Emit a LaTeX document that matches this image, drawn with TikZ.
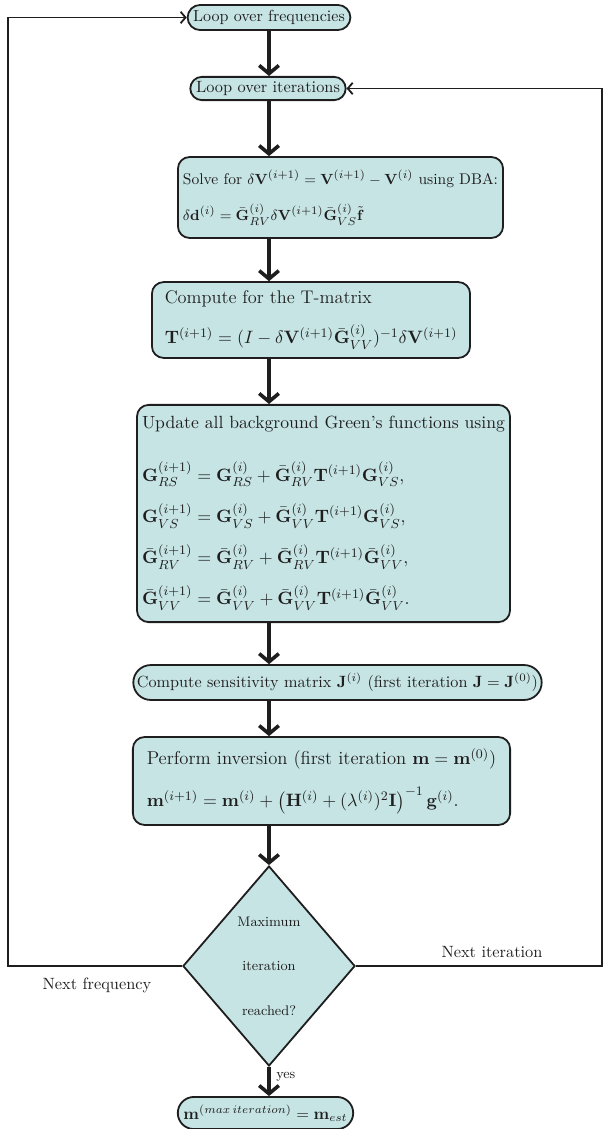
\documentclass[tikz,border=0pt]{standalone}
\usepackage{amsmath}
\usepackage{amssymb}
\usepackage{xcolor}
\usepackage{tikz}
\usetikzlibrary{arrows.meta, shapes.geometric, shapes.misc}
\definecolor{boxfill}{RGB}{199,228,229}
\definecolor{ink}{RGB}{30,30,30}
\providecommand{\Gm}{\mathbf{G}}
\providecommand{\Gb}{\bar{\mathbf{G}}}
\providecommand{\Vm}{\mathbf{V}}
\providecommand{\Tm}{\mathbf{T}}
\providecommand{\fsz}[2]{\fontsize{#1}{#2}\selectfont}

\begin{document}
\begin{tikzpicture}[x=0.0215cm, y=-0.0215cm,
	box/.style={draw=ink, fill=boxfill, text=ink, line width=1.1pt, rounded corners=0.25cm, align=left, inner sep=3pt},
	pill/.style={draw=ink, fill=boxfill, text=ink, line width=1.1pt, rounded rectangle, inner sep=2pt},
	decision/.style={draw=ink, fill=boxfill, text=ink, line width=1.1pt, diamond, align=center, inner sep=0pt, minimum width=3.7cm, minimum height=4.3cm},
	flow/.style={line width=2.2pt, ink, -{Straight Barb[length=5pt,width=12pt]}},
	back/.style={line width=1.1pt, ink, -{Straight Barb[length=3pt,width=7pt]}},
	lbl/.style={text=ink}]
	\useasboundingbox (0,0) rectangle (604,1129);
	\coordinate (trunk) at (269,0);

	\node[pill, font=\fsz{9.8}{12}, minimum width=3.48cm, minimum height=0.54cm] (freq) at (269,17.5) {Loop over frequencies};
	\node[pill, minimum width=3.25cm, minimum height=0.5cm] (iter) at (268,88.5) {Loop over iterations};

	\node[box, font=\fsz{9.5}{11.5}, minimum width=6.99cm, minimum height=1.74cm] (solve) at (340.5,197.5) {Solve for $\delta\Vm^{(i+1)} = \Vm^{(i+1)} - \Vm^{(i)}$ using DBA:\\[9pt]
		$\delta\mathbf{d}^{(i)} = \Gb^{(i)}_{RV}\delta\Vm^{(i+1)}\Gb^{(i)}_{VS}\tilde{\mathbf{f}}$};

	\node[box, font=\fsz{11.2}{13.5}, minimum width=6.84cm, minimum height=1.63cm] (tmat) at (311,320) {Compute for the T-matrix\\[10pt]
		$\Tm^{(i+1)} = (I - \delta\Vm^{(i+1)}\Gb^{(i)}_{VV})^{-1}\delta\Vm^{(i+1)}$};

	\node[box, font=\fsz{10.8}{13}, minimum width=8.02cm, minimum height=4.67cm] (green) at (323.5,513.5) {Update all background Green's functions using\\[17pt]
		$\Gm^{(i+1)}_{RS} = \Gm^{(i)}_{RS} + \Gb^{(i)}_{RV}\Tm^{(i+1)}\Gm^{(i)}_{VS},$\\[9pt]
		$\Gm^{(i+1)}_{VS} = \Gm^{(i)}_{VS} + \Gb^{(i)}_{VV}\Tm^{(i+1)}\Gm^{(i)}_{VS},$\\[9pt]
		$\Gb^{(i+1)}_{RV} = \Gb^{(i)}_{RV} + \Gb^{(i)}_{RV}\Tm^{(i+1)}\Gb^{(i)}_{VV},$\\[9pt]
		$\Gb^{(i+1)}_{VV} = \Gb^{(i)}_{VV} + \Gb^{(i)}_{VV}\Tm^{(i+1)}\Gb^{(i)}_{VV}.$};

	\node[pill, font=\fsz{9.9}{12}, minimum width=8.92cm, minimum height=0.75cm] (sens) at (337.5,682.5) {Compute sensitivity matrix $\mathbf{J}^{(i)}$ (first iteration $\mathbf{J} = \mathbf{J}^{(0)}$)};

	\node[box, font=\fsz{11.4}{13.7}, minimum width=8.11cm, minimum height=1.89cm] (inv) at (321.5,781) {Perform inversion (first iteration $\mathbf{m} = \mathbf{m}^{(0)}$)\\[10pt]
		$\mathbf{m}^{(i+1)} = \mathbf{m}^{(i)} + \left(\mathbf{H}^{(i)} + (\lambda^{(i)})^2\mathbf{I}\right)^{-1}\mathbf{g}^{(i)}.$};

	\node[decision, font=\fsz{8.5}{10.2}] (maxit) at (269,966) {Maximum\\[17pt]iteration\\[17pt]reached?};

	\node[pill, font=\fsz{9.8}{12}, minimum width=3.42cm, minimum height=0.69cm] (final) at (265.5,1113) {$\mathbf{m}^{(max\,iteration)} = \mathbf{m}_{est}$};

	\coordinate (lft) at (8,966);
	\coordinate (rgt) at (602,966);

	\draw[flow] (trunk |- freq.south) -- (trunk |- iter.north);
	\draw[flow] (trunk |- iter.south) -- (trunk |- solve.north);
	\draw[flow] (trunk |- solve.south) -- (trunk |- tmat.north);
	\draw[flow] (trunk |- tmat.south) -- (trunk |- green.north);
	\draw[flow] (trunk |- green.south) -- (trunk |- sens.north);
	\draw[flow] (trunk |- sens.south) -- (trunk |- inv.north);
	\draw[flow] (trunk |- inv.south) -- (maxit.north);
	\draw[flow] (maxit.south) -- node[right, lbl, font=\fsz{8.5}{10.2}, pos=0.35] {yes} (trunk |- final.north);

	\draw[back] (maxit.west) -- (lft) |- (freq.west);
	\draw[back] (maxit.east) -- (rgt) |- (iter.east);

	\node[lbl] (nextit) at (492,952) {Next iteration};
	\node[lbl] (nextfr) at (97,985) {Next frequency};
\end{tikzpicture}
\end{document}
